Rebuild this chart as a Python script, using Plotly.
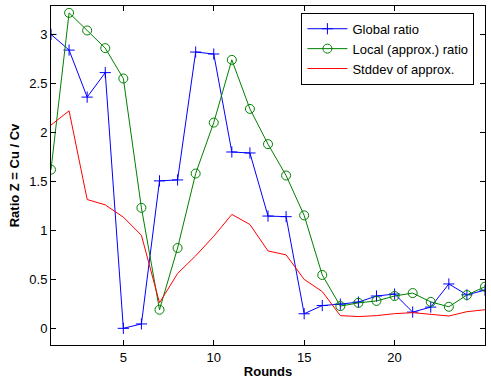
import plotly.graph_objects as go

rounds = list(range(1, 26))
global_ratio = [3.0, 2.84, 2.36, 2.61, 0.0, 0.045, 1.505, 1.515, 2.82, 2.80, 1.80, 1.79,
                1.146, 1.14, 0.149, 0.233, 0.247, 0.268, 0.33, 0.35, 0.166, 0.217, 0.453, 0.342, 0.39]
local_ratio = [1.62, 3.22, 3.04, 2.86, 2.55, 1.23, 0.19, 0.82, 1.58, 2.10, 2.74, 2.24,
               1.88, 1.56, 1.153, 0.545, 0.227, 0.26, 0.28, 0.33, 0.36, 0.27, 0.22, 0.34, 0.425]
stddev = [2.075, 2.22, 1.315, 1.26, 1.135, 0.95, 0.26, 0.56, 0.74, 0.94, 1.163, 1.06,
          0.79, 0.75, 0.50, 0.375, 0.13, 0.12, 0.13, 0.15, 0.16, 0.145, 0.126, 0.17, 0.19]
x_ticks = [5, 10, 15, 20, 25]
y_ticks = [0, 0.5, 1, 1.5, 2, 2.5, 3]
y_tick_labels = ["0", "0.5", "1", "1.5", "2", "2.5", "3"]

FONT = "Liberation Sans, Arial"

fig = go.Figure()
fig.add_trace(go.Scatter(x=rounds, y=global_ratio, name="Global ratio", mode="lines+markers",
                         line=dict(color="#0000ff", width=1),
                         marker=dict(symbol="cross-thin-open", size=8, line=dict(color="#0000ff", width=1))))
fig.add_trace(go.Scatter(x=rounds, y=local_ratio, name="Local (approx.) ratio", mode="lines+markers",
                         line=dict(color="#008000", width=1),
                         marker=dict(symbol="circle-open", size=9, color="#008000", line=dict(color="#008000", width=1))))
fig.add_trace(go.Scatter(x=rounds, y=stddev, name="Stddev of approx.", mode="lines",
                         line=dict(color="#ff0000", width=1)))

axis_common = dict(showline=True, linecolor="black", linewidth=1, mirror="ticks", ticks="inside",
                   ticklen=5, tickcolor="black", showgrid=False, zeroline=False,
                   tickfont=dict(family=FONT, size=13, color="black"))
fig.update_xaxes(range=[1, 25], tickvals=x_ticks,
                 title=dict(text="<b>Rounds</b>", font=dict(family=FONT, size=13, color="black"), standoff=3),
                 **axis_common)
fig.update_yaxes(range=[-0.17, 3.29], tickvals=y_ticks, ticktext=y_tick_labels,
                 title=dict(text="<b>Ratio Z = Cu / Cv</b>", font=dict(family=FONT, size=13, color="black"), standoff=6),
                 **axis_common)
fig.update_layout(width=491, height=382, margin=dict(l=51, r=5, t=5, b=36),
                  plot_bgcolor="white", paper_bgcolor="white",
                  showlegend=True,
                  legend=dict(x=0.577, y=0.98, xanchor="left", yanchor="top",
                              bordercolor="black", borderwidth=1, bgcolor="white",
                              font=dict(family=FONT, size=13, color="black"),
                              tracegroupgap=0, itemwidth=40))
fig.write_html("out.html")
